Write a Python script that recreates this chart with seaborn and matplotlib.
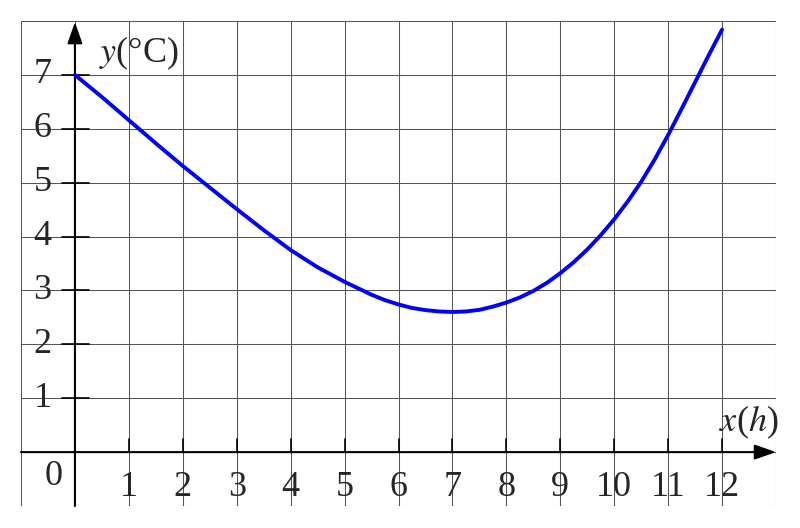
import matplotlib
matplotlib.use("Agg")
import matplotlib.pyplot as plt
import seaborn as sns
import pandas as pd

# Data
hours = [0, 0.5, 1, 1.5, 2, 2.5, 3, 3.5, 4, 4.5, 5, 5.5, 5.75, 6, 6.25, 6.5, 6.75,
         7, 7.25, 7.5, 7.75, 8, 8.25, 8.5, 8.75, 9, 9.25, 9.5, 9.75, 10, 10.25,
         10.5, 10.75, 11, 11.25, 11.5, 11.75, 12]
temps = [7.0, 6.59, 6.16, 5.73, 5.31, 4.91, 4.51, 4.12, 3.75, 3.43, 3.16, 2.92, 2.82,
         2.74, 2.675, 2.635, 2.61, 2.60, 2.61, 2.64, 2.70, 2.775, 2.87, 2.99, 3.14, 3.32,
         3.525, 3.76, 4.025, 4.32, 4.65, 5.015, 5.43, 5.885, 6.37, 6.865, 7.36, 7.84]
x_ticks = list(range(1, 13))
y_ticks = list(range(1, 8))

sns.set_theme(style="white")
plt.rcParams['font.family'] = ['Liberation Serif', 'DejaVu Serif']
plt.rcParams['mathtext.fontset'] = 'stix'

fig = plt.figure(figsize=(8.0, 5.28), dpi=100)
ax = fig.add_axes([21 / 800, 22 / 528, 755 / 800, 485 / 528])
ax.set_xlim(-1, 13)
ax.set_ylim(-1, 8)

# grid
for gx in range(-1, 14):
    ax.axvline(gx, color='#555555', lw=0.75, zorder=0)
for gy in range(-1, 9):
    ax.axhline(gy, color='#555555', lw=0.75, zorder=0)
for s in ax.spines.values():
    s.set_visible(False)
ax.set_xticks([])
ax.set_yticks([])

# axes with arrows
ax.annotate('', xy=(13, 0), xytext=(-1, 0),
            arrowprops=dict(arrowstyle='-|>,head_length=1.0,head_width=0.35',
                            mutation_scale=13, lw=1.5, color='black',
                            shrinkA=0, shrinkB=0), zorder=3)
ax.annotate('', xy=(0, 7.98), xytext=(0, -1),
            arrowprops=dict(arrowstyle='-|>,head_length=1.0,head_width=0.35',
                            mutation_scale=13, lw=1.5, color='black',
                            shrinkA=0, shrinkB=0), zorder=3)

# tick marks and labels
fs = 26
for t in x_ticks:
    ax.plot([t, t], [0, 0.24], color='black', lw=1.2, zorder=3)
    ax.text(t, -0.66, str(t), ha='center', va='center', fontsize=fs)
for t in y_ticks:
    ax.plot([-0.24, 0.26], [t, t], color='black', lw=1.2, zorder=3)
    ax.text(-0.6, t, str(t), ha='center', va='center', fontsize=fs)
ax.text(-0.39, -0.46, '0', ha='center', va='center', fontsize=fs)

ax.text(1.19, 7.40, r'$y$(°C)', ha='center', va='center', fontsize=fs)
ax.text(12.49, 0.56, r'$x$($h$)', ha='center', va='center', fontsize=fs)

# curve
df = pd.DataFrame({'hour': hours, 'temp': temps})
sns.lineplot(data=df, x='hour', y='temp', color='#0000ff', lw=2.8, ax=ax,
             sort=False, zorder=4)
ax.set_xlabel('')
ax.set_ylabel('')

fig.savefig('out.png', dpi=100)
